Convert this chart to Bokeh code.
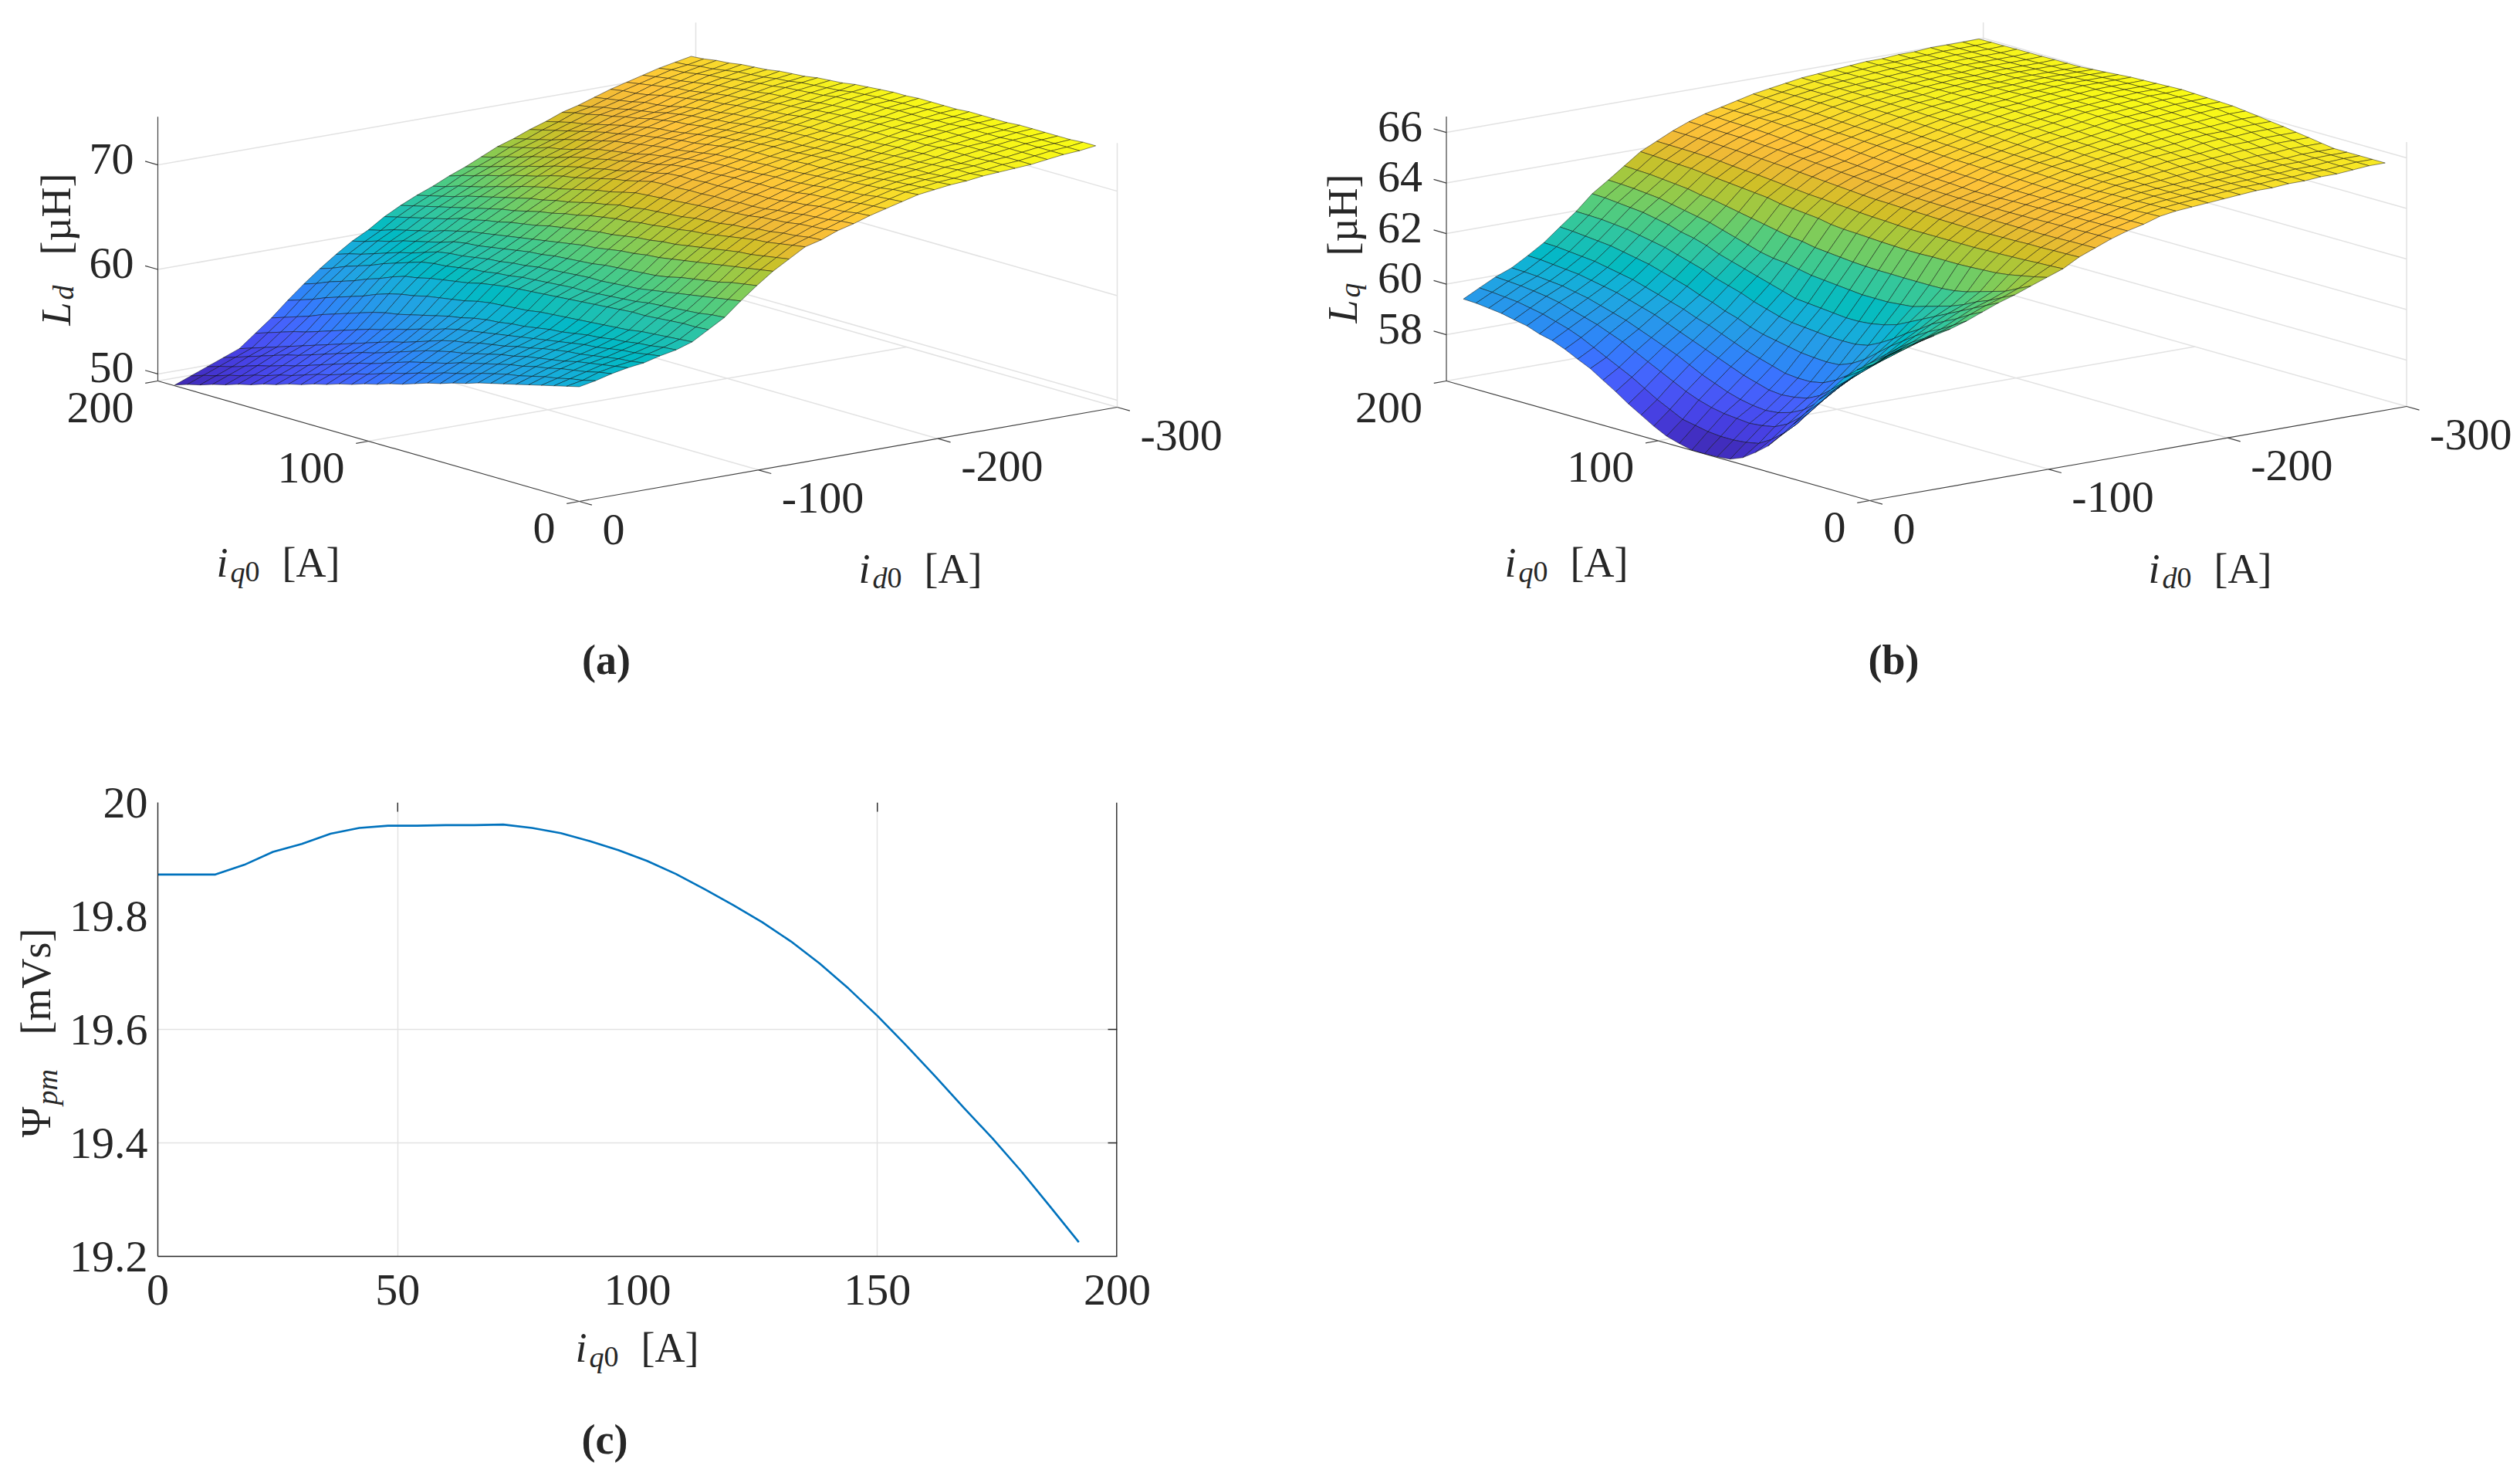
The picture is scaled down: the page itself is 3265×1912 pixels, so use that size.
import math
import numpy as np
from bokeh.plotting import figure
from bokeh.layouts import column, row
from bokeh.models import Label, Range1d, ColumnDataSource, FixedTicker
from bokeh.embed import file_html
from bokeh.resources import INLINE

id0_values = [-9 * k for k in range(33)]
iq0_values = [6 * k for k in range(33)]

# Ld [uH]: one list per id0 value, along iq0 = 0, 6, ... 192
Ld_id000 = [60.3,60.0,59.7,59.4,59.1,58.8,58.5,58.2,57.9,57.5,57.2,56.8,56.5,56.1,55.7,55.4,55.0,54.7,54.3,54.0,53.6,53.3,52.9,52.6,52.2,51.9,51.5,51.2,50.8,50.5,50.1,49.8,49.4]
Ld_id009 = [60.6,60.3,60.1,59.8,59.6,59.3,59.0,58.8,58.5,58.2,57.8,57.5,57.2,56.8,56.5,56.1,55.8,55.4,55.0,54.7,54.3,53.9,53.6,53.2,52.8,52.5,52.1,51.8,51.4,51.1,50.7,50.4,50.0]
Ld_id018 = [61.0,60.8,60.5,60.3,60.1,59.8,59.6,59.3,59.1,58.8,58.5,58.2,57.9,57.5,57.2,56.9,56.6,56.2,55.8,55.4,55.1,54.7,54.3,53.9,53.5,53.1,52.8,52.4,52.1,51.7,51.3,51.0,50.6]
Ld_id027 = [61.3,61.1,60.9,60.7,60.5,60.2,60.0,59.8,59.6,59.3,59.1,58.8,58.5,58.2,58.0,57.7,57.4,57.0,56.6,56.2,55.8,55.5,55.1,54.7,54.3,53.9,53.5,53.2,52.8,52.4,52.0,51.6,51.2]
Ld_id036 = [61.5,61.3,61.2,61.0,60.8,60.6,60.5,60.3,60.1,59.8,59.6,59.3,59.1,58.9,58.6,58.4,58.1,57.7,57.3,56.9,56.6,56.2,55.8,55.4,55.0,54.6,54.2,53.8,53.4,53.0,52.6,52.2,51.8]
Ld_id045 = [61.9,61.7,61.5,61.4,61.2,61.0,60.9,60.7,60.5,60.3,60.1,59.9,59.7,59.5,59.3,59.1,58.9,58.6,58.2,57.9,57.5,57.2,56.8,56.5,56.1,55.7,55.3,54.9,54.5,54.2,53.8,53.4,53.0]
Ld_id054 = [62.2,62.1,61.9,61.8,61.6,61.5,61.3,61.2,61.0,60.8,60.7,60.5,60.3,60.2,60.0,59.9,59.7,59.4,59.2,58.9,58.6,58.3,58.0,57.8,57.5,57.1,56.7,56.3,55.9,55.4,55.0,54.6,54.2]
Ld_id063 = [62.7,62.6,62.5,62.4,62.3,62.1,62.0,61.9,61.8,61.7,61.6,61.5,61.4,61.2,61.1,61.0,60.9,60.7,60.4,60.2,60.0,59.8,59.5,59.3,59.0,58.6,58.1,57.7,57.3,56.9,56.4,56.0,55.6]
Ld_id072 = [63.6,63.5,63.5,63.4,63.3,63.2,63.2,63.1,63.0,62.9,62.8,62.7,62.6,62.5,62.4,62.3,62.2,62.0,61.8,61.5,61.3,61.1,60.9,60.6,60.4,60.0,59.5,59.1,58.6,58.2,57.8,57.3,56.9]
Ld_id081 = [64.5,64.4,64.2,64.1,64.0,63.9,63.8,63.6,63.5,63.4,63.3,63.2,63.2,63.1,63.0,62.9,62.8,62.6,62.5,62.3,62.2,62.0,61.8,61.7,61.5,61.1,60.7,60.3,59.8,59.4,59.0,58.5,58.1]
Ld_id090 = [65.8,65.6,65.4,65.2,65.0,64.8,64.6,64.4,64.2,64.1,64.0,63.9,63.9,63.8,63.7,63.6,63.5,63.3,63.2,63.0,62.9,62.7,62.5,62.4,62.2,61.8,61.4,61.1,60.7,60.3,59.9,59.6,59.2]
Ld_id099 = [67.0,66.8,66.6,66.3,66.1,65.9,65.7,65.4,65.2,65.1,65.0,64.9,64.8,64.6,64.5,64.4,64.3,64.1,64.0,63.8,63.6,63.4,63.2,63.1,62.9,62.5,62.2,61.9,61.6,61.2,60.9,60.5,60.2]
Ld_id108 = [68.1,67.9,67.7,67.5,67.3,67.1,66.9,66.7,66.5,66.3,66.2,66.0,65.9,65.7,65.5,65.4,65.2,65.0,64.8,64.6,64.4,64.2,64.0,63.8,63.6,63.3,63.0,62.6,62.3,62.0,61.7,61.3,61.0]
Ld_id117 = [69.0,68.8,68.6,68.4,68.3,68.1,67.9,67.7,67.5,67.3,67.2,67.0,66.9,66.7,66.5,66.4,66.2,66.0,65.8,65.6,65.3,65.1,64.9,64.6,64.4,64.1,63.9,63.5,63.2,62.9,62.6,62.3,62.0]
Ld_id126 = [69.9,69.7,69.5,69.3,69.2,69.0,68.8,68.6,68.4,68.3,68.1,68.0,67.8,67.7,67.5,67.4,67.2,67.0,66.7,66.5,66.2,66.0,65.7,65.4,65.2,64.9,64.6,64.3,64.0,63.7,63.4,63.1,62.8]
Ld_id135 = [70.3,70.2,70.0,69.9,69.7,69.6,69.4,69.3,69.1,69.0,68.9,68.7,68.6,68.5,68.4,68.2,68.1,67.8,67.6,67.3,67.0,66.8,66.5,66.3,66.0,65.7,65.4,65.1,64.8,64.4,64.1,63.8,63.5]
Ld_id144 = [70.9,70.7,70.6,70.5,70.3,70.2,70.1,69.9,69.8,69.7,69.6,69.5,69.4,69.3,69.2,69.1,69.0,68.7,68.4,68.2,67.9,67.6,67.3,67.1,66.8,66.5,66.1,65.8,65.4,65.1,64.8,64.4,64.1]
Ld_id153 = [71.3,71.2,71.0,70.9,70.8,70.6,70.5,70.3,70.2,70.2,70.1,70.1,70.0,70.0,69.9,69.9,69.8,69.5,69.2,69.0,68.7,68.4,68.1,67.9,67.6,67.2,66.9,66.6,66.2,65.9,65.5,65.2,64.8]
Ld_id162 = [71.8,71.7,71.5,71.4,71.3,71.1,71.0,70.8,70.7,70.7,70.6,70.6,70.5,70.5,70.4,70.4,70.3,70.0,69.8,69.5,69.2,69.0,68.7,68.5,68.2,67.9,67.5,67.2,66.8,66.5,66.1,65.8,65.4]
Ld_id171 = [72.2,72.1,72.0,71.8,71.7,71.6,71.5,71.3,71.2,71.1,71.1,71.0,71.0,70.9,70.8,70.8,70.7,70.5,70.2,70.0,69.8,69.5,69.3,69.0,68.8,68.5,68.1,67.8,67.5,67.1,66.8,66.4,66.1]
Ld_id180 = [72.6,72.5,72.4,72.2,72.1,72.0,71.9,71.7,71.6,71.5,71.5,71.4,71.3,71.2,71.2,71.1,71.0,70.8,70.6,70.4,70.2,69.9,69.7,69.5,69.3,69.0,68.6,68.3,68.1,67.7,67.4,67.1,66.8]
Ld_id189 = [73.0,72.9,72.8,72.6,72.5,72.4,72.3,72.1,72.0,71.9,71.8,71.7,71.7,71.6,71.5,71.4,71.3,71.1,70.9,70.7,70.6,70.4,70.2,70.0,69.8,69.5,69.2,68.9,68.6,68.2,67.9,67.6,67.3]
Ld_id198 = [73.2,73.1,73.0,72.9,72.8,72.6,72.5,72.4,72.3,72.2,72.2,72.1,72.0,71.9,71.9,71.8,71.7,71.5,71.3,71.1,71.0,70.8,70.6,70.4,70.2,69.9,69.7,69.4,69.1,68.8,68.5,68.2,67.9]
Ld_id207 = [73.4,73.3,73.2,73.1,73.0,72.9,72.8,72.7,72.6,72.5,72.5,72.4,72.3,72.2,72.2,72.1,72.0,71.8,71.7,71.5,71.3,71.1,70.9,70.8,70.6,70.3,70.1,69.8,69.5,69.2,69.0,68.7,68.4]
Ld_id216 = [73.5,73.4,73.3,73.2,73.2,73.1,73.0,72.9,72.8,72.7,72.7,72.6,72.5,72.4,72.4,72.3,72.2,72.1,71.9,71.8,71.6,71.5,71.3,71.2,71.0,70.8,70.5,70.3,70.0,69.8,69.5,69.3,69.0]
Ld_id225 = [73.7,73.6,73.6,73.5,73.4,73.3,73.3,73.2,73.1,73.0,73.0,72.9,72.8,72.7,72.7,72.6,72.5,72.4,72.2,72.1,71.9,71.8,71.6,71.5,71.3,71.1,70.8,70.6,70.4,70.1,69.9,69.6,69.4]
Ld_id234 = [73.8,73.7,73.7,73.6,73.6,73.5,73.5,73.4,73.4,73.3,73.2,73.2,73.1,73.0,72.9,72.9,72.8,72.7,72.5,72.4,72.2,72.1,71.9,71.8,71.6,71.4,71.1,70.9,70.8,70.5,70.3,70.1,69.9]
Ld_id243 = [73.9,73.9,73.9,73.8,73.8,73.8,73.8,73.7,73.7,73.6,73.5,73.5,73.4,73.3,73.2,73.2,73.1,73.0,72.8,72.7,72.6,72.4,72.3,72.1,72.0,71.8,71.6,71.4,71.2,70.9,70.7,70.6,70.4]
Ld_id252 = [74.0,74.0,74.0,74.0,74.0,74.0,73.9,73.9,73.9,73.8,73.8,73.7,73.7,73.6,73.5,73.5,73.4,73.3,73.1,73.0,72.9,72.7,72.6,72.4,72.3,72.1,71.9,71.7,71.6,71.4,71.2,71.0,70.8]
Ld_id261 = [74.2,74.2,74.2,74.2,74.2,74.1,74.1,74.1,74.1,74.0,74.0,73.9,73.9,73.8,73.7,73.7,73.6,73.5,73.4,73.2,73.1,73.0,72.9,72.7,72.6,72.4,72.3,72.1,71.9,71.7,71.6,71.4,71.2]
Ld_id270 = [74.4,74.4,74.4,74.4,74.4,74.3,74.3,74.3,74.3,74.2,74.2,74.1,74.1,74.1,74.0,74.0,73.9,73.8,73.7,73.5,73.4,73.3,73.2,73.0,72.9,72.7,72.6,72.4,72.3,72.1,71.9,71.8,71.6]
Ld_id279 = [74.5,74.5,74.5,74.5,74.5,74.5,74.4,74.4,74.4,74.4,74.3,74.3,74.3,74.2,74.2,74.1,74.1,74.0,73.9,73.7,73.6,73.5,73.4,73.2,73.1,72.9,72.8,72.7,72.5,72.3,72.2,72.0,71.9]
Ld_id288 = [74.7,74.7,74.6,74.6,74.6,74.6,74.6,74.5,74.5,74.5,74.5,74.4,74.4,74.4,74.4,74.3,74.3,74.2,74.1,74.0,73.8,73.7,73.6,73.4,73.3,73.2,73.0,72.9,72.8,72.6,72.5,72.3,72.2]

# Lq [uH]
Lq_id000 = [61.6,61.2,60.75,60.15,59.6,58.95,58.35,57.75,57.2,56.8,56.45,56.25,56.2,56.18,56.18,56.3,56.45,56.7,57.0,57.3,57.64,57.95,58.27,58.5,58.75,58.95,59.07,59.25,59.35,59.46,59.52,59.58,59.6]
Lq_id009 = [61.75,61.3,60.9,60.4,59.9,59.3,58.7,58.1,57.6,57.2,56.9,56.8,56.75,56.75,56.8,56.9,57.0,57.25,57.5,57.8,58.1,58.35,58.6,58.85,59.1,59.3,59.45,59.6,59.7,59.8,59.85,59.9,59.93]
Lq_id018 = [61.95,61.55,61.1,60.65,60.2,59.7,59.15,58.6,58.1,57.7,57.45,57.35,57.3,57.35,57.4,57.5,57.65,57.85,58.1,58.35,58.6,58.85,59.1,59.3,59.5,59.65,59.8,59.95,60.05,60.12,60.18,60.22,60.25]
Lq_id027 = [62.1,61.7,61.3,60.9,60.5,60.05,59.55,59.05,58.55,58.15,57.9,57.75,57.7,57.75,57.85,58.0,58.2,58.4,58.65,58.9,59.1,59.3,59.5,59.7,59.85,60.0,60.15,60.25,60.35,60.4,60.45,60.48,60.5]
Lq_id036 = [62.25,61.9,61.55,61.2,60.8,60.35,59.9,59.45,59.0,58.6,58.35,58.25,58.2,58.25,58.4,58.55,58.75,58.95,59.15,59.35,59.55,59.75,59.95,60.1,60.25,60.4,60.5,60.6,60.7,60.75,60.8,60.85,60.87]
Lq_id045 = [62.4,62.1,61.75,61.45,61.1,60.7,60.3,59.85,59.45,59.1,58.85,58.75,58.75,58.8,58.95,59.1,59.25,59.45,59.65,59.85,60.0,60.2,60.35,60.5,60.65,60.8,60.9,61.0,61.1,61.15,61.2,61.25,61.27]
Lq_id054 = [62.6,62.3,62.0,61.75,61.45,61.1,60.75,60.35,59.95,59.65,59.45,59.42,59.45,59.5,59.6,59.7,59.8,59.95,60.15,60.3,60.5,60.65,60.85,61.0,61.15,61.3,61.4,61.5,61.6,61.65,61.7,61.75,61.78]
Lq_id063 = [62.85,62.6,62.3,62.05,61.8,61.45,61.15,60.8,60.5,60.25,60.15,60.14,60.15,60.2,60.25,60.3,60.4,60.55,60.7,60.9,61.05,61.2,61.4,61.55,61.7,61.85,61.95,62.05,62.15,62.2,62.25,62.27,62.28]
Lq_id072 = [63.1,62.85,62.6,62.35,62.1,61.85,61.6,61.35,61.1,60.95,60.85,60.8,60.8,60.85,60.9,60.95,61.0,61.15,61.3,61.45,61.6,61.75,61.9,62.1,62.25,62.35,62.5,62.6,62.7,62.75,62.8,62.85,62.87]
Lq_id081 = [63.3,63.05,62.8,62.6,62.35,62.15,62.0,61.85,61.7,61.65,61.6,61.6,61.6,61.65,61.7,61.75,61.8,61.9,62.0,62.05,62.15,62.3,62.45,62.6,62.75,62.85,62.95,63.05,63.15,63.2,63.25,63.28,63.3]
Lq_id090 = [63.54,63.3,63.05,62.9,62.75,62.6,62.5,62.45,62.44,62.44,62.44,62.45,62.45,62.47,62.5,62.55,62.6,62.65,62.75,62.8,62.9,63.0,63.1,63.2,63.3,63.4,63.45,63.55,63.6,63.65,63.7,63.72,63.75]
Lq_id099 = [63.77,63.65,63.55,63.45,63.38,63.35,63.32,63.3,63.3,63.3,63.28,63.28,63.3,63.32,63.35,63.38,63.4,63.45,63.55,63.6,63.65,63.7,63.8,63.85,63.9,63.95,64.0,64.05,64.1,64.12,64.15,64.18,64.2]
Lq_id108 = [64.0,63.97,63.95,63.92,63.9,63.88,63.87,63.85,63.85,63.85,63.85,63.85,63.85,63.87,63.9,63.92,63.95,64.0,64.03,64.07,64.1,64.15,64.2,64.25,64.3,64.33,64.37,64.42,64.45,64.47,64.48,64.49,64.5]
Lq_id117 = [64.35,64.33,64.32,64.3,64.3,64.28,64.27,64.26,64.25,64.26,64.27,64.28,64.3,64.31,64.32,64.34,64.35,64.38,64.42,64.46,64.5,64.54,64.58,64.62,64.65,64.68,64.7,64.73,64.75,64.77,64.78,64.79,64.8]
Lq_id126 = [64.6,64.59,64.58,64.56,64.55,64.55,64.55,64.55,64.55,64.55,64.55,64.55,64.55,64.56,64.57,64.59,64.6,64.64,64.68,64.72,64.75,64.79,64.83,64.87,64.9,64.93,64.95,64.98,65.0,65.01,65.02,65.04,65.05]
Lq_id135 = [64.85,64.84,64.83,64.81,64.8,64.79,64.77,64.76,64.75,64.75,64.75,64.75,64.75,64.76,64.77,64.79,64.8,64.82,64.85,64.87,64.9,64.94,64.98,65.02,65.05,65.09,65.13,65.17,65.2,65.21,65.22,65.24,65.25]
Lq_id144 = [65.05,65.04,65.02,65.01,65.0,64.99,64.97,64.96,64.95,64.94,64.92,64.91,64.9,64.92,64.95,64.97,65.0,65.03,65.05,65.08,65.1,65.14,65.18,65.22,65.25,65.29,65.33,65.37,65.4,65.4,65.4,65.4,65.4]
Lq_id153 = [65.2,65.19,65.18,65.16,65.15,65.14,65.12,65.11,65.1,65.1,65.1,65.1,65.1,65.11,65.12,65.14,65.15,65.19,65.22,65.26,65.3,65.33,65.35,65.38,65.4,65.43,65.45,65.48,65.5,65.51,65.52,65.54,65.55]
Lq_id162 = [65.4,65.38,65.35,65.33,65.3,65.29,65.27,65.26,65.25,65.26,65.27,65.29,65.3,65.31,65.32,65.34,65.35,65.37,65.4,65.43,65.45,65.48,65.5,65.53,65.55,65.58,65.6,65.63,65.65,65.66,65.67,65.69,65.7]
Lq_id171 = [65.5,65.49,65.48,65.46,65.45,65.44,65.42,65.41,65.4,65.41,65.42,65.44,65.45,65.46,65.47,65.49,65.5,65.53,65.55,65.58,65.6,65.63,65.65,65.68,65.7,65.73,65.75,65.78,65.8,65.8,65.8,65.8,65.8]
Lq_id180 = [65.55,65.55,65.55,65.55,65.55,65.55,65.55,65.55,65.55,65.56,65.57,65.59,65.6,65.61,65.62,65.64,65.65,65.68,65.7,65.73,65.75,65.78,65.8,65.83,65.85,65.86,65.87,65.89,65.9,65.9,65.9,65.9,65.9]
Lq_id189 = [65.6,65.6,65.6,65.6,65.6,65.61,65.62,65.64,65.65,65.66,65.67,65.69,65.7,65.72,65.75,65.77,65.8,65.83,65.85,65.88,65.9,65.91,65.92,65.94,65.95,65.96,65.97,65.99,66.0,66.0,66.0,66.0,66.0]
Lq_id198 = [65.65,65.65,65.65,65.65,65.65,65.67,65.7,65.72,65.75,65.77,65.8,65.82,65.85,65.87,65.9,65.92,65.95,65.96,65.97,65.99,66.0,66.01,66.02,66.04,66.05,66.05,66.05,66.05,66.05,66.05,66.05,66.05,66.05]
Lq_id207 = [65.7,65.7,65.7,65.7,65.7,65.74,65.78,65.81,65.85,65.87,65.9,65.92,65.95,65.97,66.0,66.02,66.05,66.06,66.07,66.09,66.1,66.1,66.1,66.1,66.1,66.1,66.1,66.1,66.1,66.1,66.1,66.1,66.1]
Lq_id216 = [65.75,65.75,65.75,65.75,65.75,65.8,65.85,65.9,65.95,65.97,66.0,66.02,66.05,66.07,66.1,66.12,66.15,66.16,66.17,66.19,66.2,66.2,66.2,66.2,66.2,66.19,66.17,66.16,66.15,66.15,66.15,66.15,66.15]
Lq_id225 = [65.75,65.76,65.77,65.79,65.8,65.85,65.9,65.95,66.0,66.04,66.08,66.11,66.15,66.17,66.2,66.22,66.25,66.25,66.25,66.25,66.25,66.25,66.25,66.25,66.25,66.24,66.22,66.21,66.2,66.2,66.2,66.2,66.2]
Lq_id234 = [65.8,65.81,65.82,65.84,65.85,65.9,65.95,66.0,66.05,66.1,66.15,66.2,66.25,66.28,66.3,66.33,66.35,66.35,66.35,66.35,66.35,66.34,66.32,66.31,66.3,66.29,66.27,66.26,66.25,66.24,66.22,66.21,66.2]
Lq_id243 = [65.8,65.81,65.82,65.84,65.85,65.92,66.0,66.07,66.15,66.19,66.22,66.26,66.3,66.33,66.35,66.38,66.4,66.4,66.4,66.4,66.4,66.38,66.35,66.33,66.3,66.29,66.27,66.26,66.25,66.25,66.25,66.25,66.25]
Lq_id252 = [65.85,65.86,65.87,65.89,65.9,65.97,66.05,66.12,66.2,66.24,66.28,66.31,66.35,66.38,66.4,66.43,66.45,66.45,66.45,66.45,66.45,66.43,66.4,66.38,66.35,66.34,66.32,66.31,66.3,66.29,66.27,66.26,66.25]
Lq_id261 = [65.85,65.86,65.87,65.89,65.9,65.97,66.05,66.12,66.2,66.25,66.3,66.35,66.4,66.43,66.45,66.48,66.5,66.5,66.5,66.5,66.5,66.46,66.43,66.39,66.35,66.34,66.32,66.31,66.3,66.3,66.3,66.3,66.3]
Lq_id270 = [65.9,65.91,65.92,65.94,65.95,66.02,66.1,66.17,66.25,66.3,66.35,66.4,66.45,66.48,66.5,66.53,66.55,66.54,66.52,66.51,66.5,66.46,66.43,66.39,66.35,66.34,66.32,66.31,66.3,66.3,66.3,66.3,66.3]
Lq_id279 = [65.95,65.95,65.95,65.95,65.95,66.02,66.1,66.17,66.25,66.31,66.38,66.44,66.5,66.51,66.52,66.54,66.55,66.54,66.52,66.51,66.5,66.46,66.43,66.39,66.35,66.34,66.32,66.31,66.3,66.3,66.3,66.3,66.3]
Lq_id288 = [65.95,65.95,65.95,65.95,65.95,66.02,66.1,66.17,66.25,66.31,66.38,66.44,66.5,66.52,66.54,66.56,66.58,66.56,66.54,66.52,66.5,66.46,66.42,66.38,66.34,66.34,66.34,66.33,66.33,66.33,66.32,66.32,66.31]

# Psi_pm panel
psi_iq0 = [0,6,12,18,24,30,36,42,48,54,60,66,72,78,84,90,96,102,108,114,120,126,132,138,144,150,156,162,168,174,180,186,192]
psi_pm = [19.873,19.873,19.873,19.89,19.913,19.927,19.945,19.955,19.959,19.959,19.96,19.96,19.961,19.955,19.946,19.932,19.916,19.897,19.874,19.847,19.819,19.789,19.755,19.716,19.672,19.624,19.572,19.518,19.462,19.408,19.35,19.288,19.225]

Ld_rows = [Ld_id000,Ld_id009,Ld_id018,Ld_id027,Ld_id036,Ld_id045,Ld_id054,Ld_id063,Ld_id072,Ld_id081,Ld_id090,Ld_id099,Ld_id108,Ld_id117,Ld_id126,Ld_id135,Ld_id144,Ld_id153,Ld_id162,Ld_id171,Ld_id180,Ld_id189,Ld_id198,Ld_id207,Ld_id216,Ld_id225,Ld_id234,Ld_id243,Ld_id252,Ld_id261,Ld_id270,Ld_id279,Ld_id288]
Lq_rows = [Lq_id000,Lq_id009,Lq_id018,Lq_id027,Lq_id036,Lq_id045,Lq_id054,Lq_id063,Lq_id072,Lq_id081,Lq_id090,Lq_id099,Lq_id108,Lq_id117,Lq_id126,Lq_id135,Lq_id144,Lq_id153,Lq_id162,Lq_id171,Lq_id180,Lq_id189,Lq_id198,Lq_id207,Lq_id216,Lq_id225,Lq_id234,Lq_id243,Lq_id252,Lq_id261,Lq_id270,Lq_id279,Lq_id288]

PARULA = [(.2422,.1504,.6603),(.2647,.1978,.7952),(.2783,.2559,.8991),(.2810,.3228,.9579),(.2699,.3892,.9906),(.2206,.4603,.9973),(.1786,.5289,.9682),(.1540,.5902,.9218),(.1248,.6459,.8883),(.0689,.6948,.8394),(.0067,.7312,.7660),(.1408,.7584,.6842),(.2161,.7843,.5923),(.3406,.8008,.4789),(.5044,.7993,.3480),(.6720,.7793,.2227),(.8203,.7498,.1535),(.9393,.7288,.2100),(.9970,.7659,.2199),(.9786,.8386,.1766),(.9628,.9373,.1265),(.9769,.9839,.0805)]
PT = np.linspace(0, 1, len(PARULA))
TXT = "#262626"
SERIF = "Liberation Serif"
TICK_FS = 58
LAB_FS = 54
SUB_FS = 38
TOP_H = 900


def color(f):
    c = [np.interp(f, PT, [p[k] for p in PARULA]) for k in range(3)]
    return "#%02x%02x%02x" % tuple(int(round(255 * v)) for v in c)


def put(p, px, py, text, size=LAB_FS, style="normal", align="left", base="alphabetic", angle=0.0, yoff=0, xoff=0):
    p.add_layout(Label(x=px - xoff, y=py - yoff, x_units="canvas", y_units="canvas", text=text, text_font=SERIF,
                       text_font_size=f"{size}px", text_font_style=style, text_color=TXT,
                       text_align=align, text_baseline=base, angle=angle, angle_units="rad", level="overlay"))


def current_label(p, x, y, sub, xoff=0, yoff=0):
    kw = dict(xoff=xoff, yoff=yoff)
    put(p, x, y, "i", style="italic", **kw)
    put(p, x + 18, y + 12, sub, SUB_FS, "italic", **kw)
    put(p, x + 37, y + 12, "0", SUB_FS, **kw)
    put(p, x + 85, y, "[A]", **kw)


def blank_figure(width, height):
    p = figure(width=width, height=height, x_range=Range1d(0, width), y_range=Range1d(height, 0), toolbar_location=None,
               output_backend="svg", min_border=0, outline_line_color=None, background_fill_color=None)
    p.axis.visible = False
    p.grid.visible = False
    return p


def surface_panel(xr, view, rows, zticks, ylab_sub, ylab_x, ylab_y0, ylab_y1, panel_tag, tag_x):
    p = figure(width=xr[1] - xr[0], height=TOP_H, x_range=Range1d(*xr), y_range=Range1d(TOP_H, 0), toolbar_location=None,
               output_backend="svg", min_border=0, outline_line_color=None, background_fill_color=None)
    p.axis.visible = False
    p.grid.visible = False
    xo = xr[0]

    def proj(idv, iq, z):
        a = -np.asarray(idv, float)
        q = np.asarray(iq, float)
        x = view["x0"] + view["ax"] * a / 300 - view["qx"] * q / 200
        y = view["y0"] - view["ay"] * a / 300 - view["qy"] * q / 200 - view["zs"] * (np.asarray(z, float) - view["zmin"])
        return x, y

    zmin, zmax = view["zmin"], view["zmax"]

    def seg(store, p0, p1):
        x0, y0 = proj(*p0)
        x1, y1 = proj(*p1)
        store[0].append([float(x0), float(x1)])
        store[1].append([float(y0), float(y1)])

    light = ([], [])
    for iv in (-100, -200):
        seg(light, (iv, 0, zmin), (iv, 200, zmin))
    seg(light, (0, 100, zmin), (-300, 100, zmin))
    seg(light, (0, 200, zmin), (-300, 200, zmin))
    seg(light, (-300, 0, zmin), (-300, 200, zmin))
    for z in zticks:
        seg(light, (0, 200, z), (-300, 200, z))
        seg(light, (-300, 200, z), (-300, 0, z))
    seg(light, (-300, 200, zmin), (-300, 200, zmax))
    seg(light, (-300, 0, zmin), (-300, 0, zmax))
    p.multi_line(light[0], light[1], line_color="#e2e2e2", line_width=1.5)

    dark = ([], [])
    seg(dark, (0, 0, zmin), (0, 200, zmin))
    seg(dark, (0, 0, zmin), (-300, 0, zmin))
    seg(dark, (0, 200, zmin), (0, 200, zmax))
    for iq in (0, 100, 200):
        seg(dark, (0, iq, zmin), (7, iq, zmin))
    for iv in (0, -100, -200, -300):
        seg(dark, (iv, 0, zmin), (iv, -6, zmin))
    for z in zticks:
        seg(dark, (0, 200, z), (0, 206, z))
    p.multi_line(dark[0], dark[1], line_color="#404040", line_width=1.2)

    Z = np.array(rows, float)
    I, Q = np.meshgrid(np.array(id0_values, float), np.array(iq0_values, float), indexing="ij")
    X, Y = proj(I, Q, Z)
    lo, hi = Z.min(), Z.max()
    quads = []
    for i in range(Z.shape[0] - 1):
        for j in range(Z.shape[1] - 1):
            depth = -(-I[i, j] * view["ay"] / 300 + Q[i, j] * view["qy"] / 200)
            quads.append((depth, i, j))
    quads.sort(key=lambda t: t[0])
    xs, ys, cs = [], [], []
    for _, i, j in quads:
        xs.append([X[i, j], X[i + 1, j], X[i + 1, j + 1], X[i, j + 1]])
        ys.append([Y[i, j], Y[i + 1, j], Y[i + 1, j + 1], Y[i, j + 1]])
        m = (Z[i, j] + Z[i + 1, j] + Z[i + 1, j + 1] + Z[i, j + 1]) / 4
        cs.append(color((m - lo) / (hi - lo)))
    src = ColumnDataSource(dict(xs=xs, ys=ys, fc=cs))
    p.patches("xs", "ys", source=src, fill_color="fc", line_color="#000000", line_width=0.55, line_alpha=0.85)

    for iq in (0, 100, 200):
        x, y = proj(0, iq, zmin)
        put(p, float(x) - 31, float(y) + 34, str(iq), TICK_FS, align="right", base="middle", xoff=xo)
    for iv in (0, -100, -200, -300):
        x, y = proj(iv, 0, zmin)
        put(p, float(x) + 30, float(y) + 36, str(iv), TICK_FS, align="left", base="middle", xoff=xo)
    for z in zticks:
        x, y = proj(0, 200, z)
        put(p, float(x) - 31, float(y) - 8, str(z), TICK_FS, align="right", base="middle", xoff=xo)

    rot = math.pi / 2
    put(p, ylab_x, ylab_y0, "L", style="italic", angle=rot, xoff=xo)
    put(p, ylab_x + 9, ylab_y0 - 33, ylab_sub, SUB_FS, "italic", angle=rot, xoff=xo)
    put(p, ylab_x, ylab_y1, "[µH]", angle=rot, xoff=xo)

    current_label(p, view["lx_q"], 728, "q", xoff=xo)
    current_label(p, view["lx_d"], 736, "d", xoff=xo)
    put(p, tag_x, 854, panel_tag, style="bold", align="center", base="middle", xoff=xo)
    return p


view_a = dict(x0=750, y0=649, ax=697, ay=122, qx=546, qy=156, zs=13.54, zmin=49.33, zmax=74.6, lx_q=280, lx_d=1112)
view_b = dict(x0=2422, y0=648, ax=695.6, ay=122, qx=548.5, qy=155, zs=32.75, zmin=56.17, zmax=66.63, lx_q=1949, lx_d=2783)

p_a = surface_panel((0, 1630), view_a, Ld_rows, [50, 60, 70], "d", 72, 421, 330, "(a)", 785)
p_b = surface_panel((1630, 3260), view_b, Lq_rows, [58, 60, 62, 64, 66], "q", 1739, 418, 331, "(b)", 2453)

# Panel (c): the plot, with a strip on its left and one below for the label text
FL, FR, FT, FB = 204, 1447, 1039, 1627
LEFT_W = 86
MID_H = 812
BOT_H = 188
p_c = figure(width=1630 - LEFT_W, height=MID_H, x_range=Range1d(0, 200), y_range=Range1d(19.2, 20), toolbar_location=None,
             output_backend="svg", min_border_left=FL - LEFT_W, min_border_right=1630 - FR, min_border_top=FT - TOP_H,
             min_border_bottom=TOP_H + MID_H - FB, outline_line_color=None, background_fill_color=None)
p_c.line(psi_iq0, psi_pm, line_color="#0072BD", line_width=2.6)

xticks = [0, 50, 100, 150, 200]
yticks = [19.2, 19.4, 19.6, 19.8, 20]
inner_xticks = [50, 150]
inner_yticks = [19.4, 19.6]
xa = p_c.xaxis[0]
xa.ticker = FixedTicker(ticks=xticks)
xa.major_label_overrides = {t: str(t) for t in xticks}
ya = p_c.yaxis[0]
ya.ticker = FixedTicker(ticks=yticks)
ya.major_label_overrides = {19.2: "19.2", 19.4: "19.4", 19.6: "19.6", 19.8: "19.8", 20: "20"}
for ax in (xa, ya):
    ax.major_tick_in = 0
    ax.major_tick_out = 0
    ax.minor_tick_in = 0
    ax.minor_tick_out = 0
    ax.axis_line_color = "#262626"
    ax.axis_line_width = 1.4
    ax.major_label_text_font = SERIF
    ax.major_label_text_font_size = f"{TICK_FS}px"
    ax.major_label_text_color = TXT
xa.major_label_standoff = 24
ya.major_label_standoff = 13
p_c.xgrid[0].ticker = FixedTicker(ticks=inner_xticks)
p_c.ygrid[0].ticker = FixedTicker(ticks=inner_yticks)
p_c.grid.grid_line_color = "#e2e2e2"
p_c.grid.grid_line_width = 1.4

# right-hand box line and the short inward ticks seen on the top and right edges
tick_dx = 12 / (FR - FL) * 200
tick_dy = 12 / (FB - FT) * 0.8
p_c.line([200, 200], [19.2, 20], line_color="#262626", line_width=2.8)
p_c.segment(x0=[200 - tick_dx] * 2, x1=[200] * 2, y0=inner_yticks, y1=inner_yticks, line_color="#262626", line_width=1.4)
p_c.segment(x0=inner_xticks, x1=inner_xticks, y0=[20 - tick_dy] * 2, y1=[20] * 2, line_color="#262626", line_width=1.4)

p_left = blank_figure(LEFT_W, MID_H)
rot = math.pi / 2
put(p_left, 46, 1473, "Ψ", angle=rot, yoff=TOP_H)
put(p_left, 60, 1431, "pm", SUB_FS, "italic", angle=rot, yoff=TOP_H)
put(p_left, 46, 1340, "[mVs]", angle=rot, yoff=TOP_H)

p_bottom = blank_figure(1630, BOT_H)
bot_y = TOP_H + MID_H
current_label(p_bottom, 745, 1745, "q", yoff=bot_y)
put(p_bottom, 783, 1864, "(c)", style="bold", align="center", base="middle", yoff=bot_y)

page = column(row(p_a, p_b), row(p_left, p_c), p_bottom)
open("out.html", "w").write(file_html(page, INLINE))
